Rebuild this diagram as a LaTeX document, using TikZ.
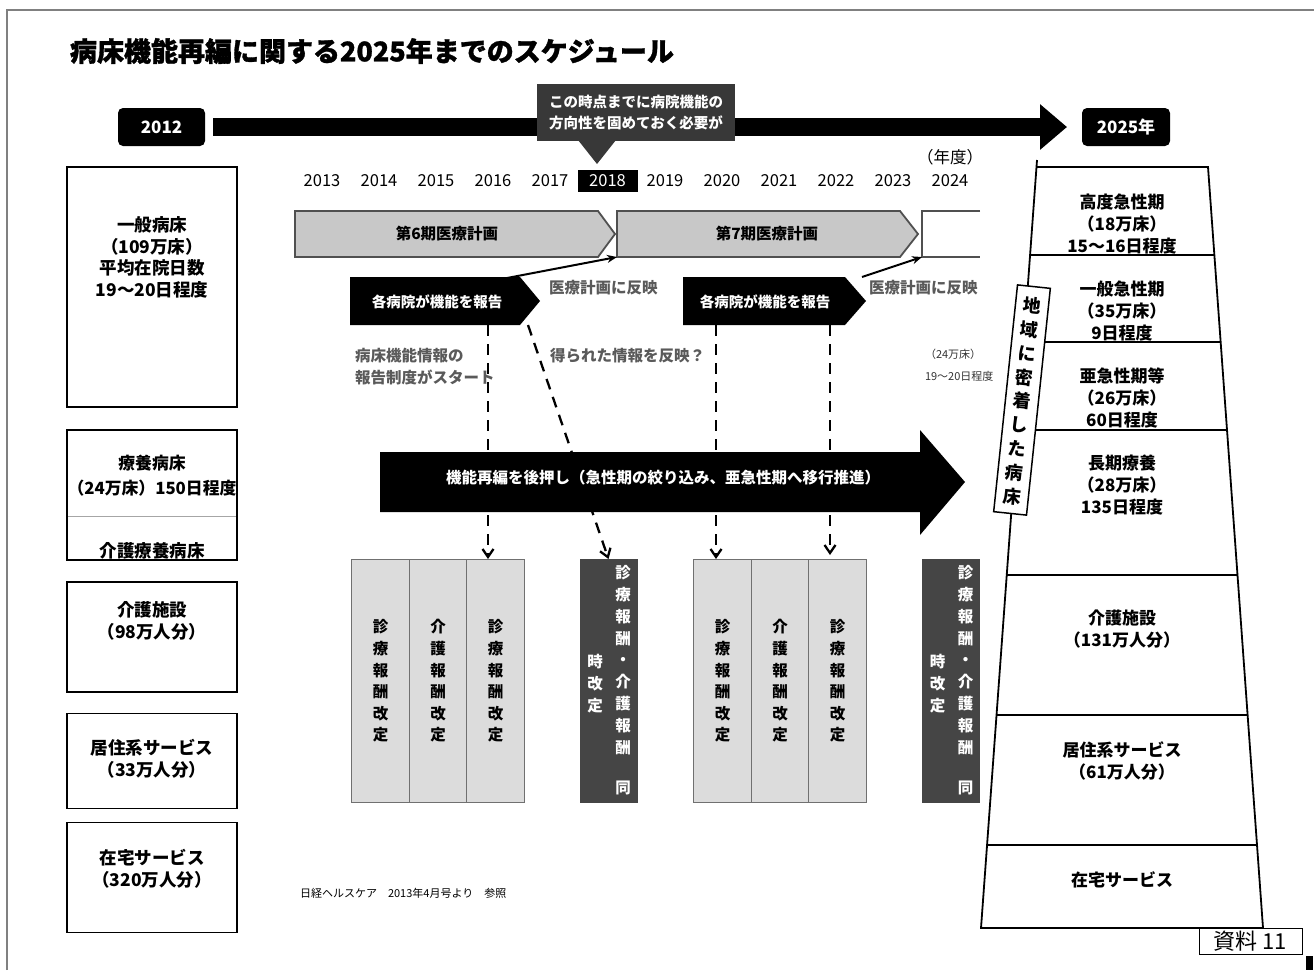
\documentclass[tikz,border=0pt]{standalone}
\usepackage{fontspec}
\setmainfont{Noto Sans CJK JP}
\usetikzlibrary{arrows.meta,shapes.geometric}
\definecolor{framegray}{HTML}{808080}
\definecolor{plangray}{HTML}{C8C8C8}
\definecolor{plandraw}{HTML}{505050}
\definecolor{boxgray}{HTML}{DCDCDC}
\definecolor{boxdraw}{HTML}{707070}
\definecolor{darkbox}{HTML}{454545}
\definecolor{calloutgray}{HTML}{383838}
\definecolor{notegray}{HTML}{5A5A5A}
\newcommand\fs[2]{\fontsize{#1}{#2}\selectfont}
\begin{document}
\begin{tikzpicture}[x=1pt,y=-1pt,
  every node/.style={inner sep=0pt, outer sep=0pt},
  lbox/.style={draw=black, line width=1.4pt, fill=white, minimum width=170pt},
  ltext/.style={align=center, font=\bfseries\fs{17.5}{21.7}},
  ttext/.style={align=center, font=\bfseries\fs{17}{22}},
  yeartext/.style={font=\fs{16.5}{18}},
  blackbox/.style={fill=black, rounded corners=5pt, text=white, minimum height=38pt, font=\bfseries\fs{17}{20}},
  planshape/.style={fill=plangray, draw=plandraw, line width=1.8pt},
  plantext/.style={font=\bfseries\fs{15.5}{18}},
  reptext/.style={text=white, font=\bfseries\fs{14.5}{17}},
  notetext/.style={text=notegray, anchor=west, align=left, font=\bfseries\fs{15.5}{22}},
  smalltext/.style={text=black!80, anchor=west, font=\fs{11}{13}},
  gcol/.style={fill=boxgray, draw=boxdraw, line width=1pt, minimum width=57.5pt, minimum height=243pt},
  dcol/.style={fill=darkbox, draw=darkbox, line width=1pt, minimum width=57pt, minimum height=243pt},
  vtext/.style={align=center, font=\bfseries\fs{15.5}{21.6}},
  dvtext/.style={align=center, text=white, font=\bfseries\fs{15.5}{21.8}},
  dasharrow/.style={line width=2.3pt, dash pattern=on 11pt off 8pt, -{Straight Barb[length=8pt,width=11pt]}},
  thinarrow/.style={line width=2pt, -{Stealth[length=10pt,width=8pt]}}
]
\useasboundingbox (0,0) rectangle (1314,970);

% frame
\draw[framegray, line width=1.5pt] (7,970) -- (7,10) -- (1314,10);

% title
\node[anchor=west, font=\bfseries\fs{27}{30}\addfontfeature{FakeBold=1.2}] (title) at (70,51) {病床機能再編に関する2025年までのスケジュール};

% timeline
\node[blackbox, minimum width=87pt] (y2012) at (161.5,127) {2012};
\node[blackbox, minimum width=88pt] (y2025) at (1126,127) {2025年};
\draw[line width=18pt, -{Triangle[length=27pt,width=44pt]}] ([xshift=8pt]y2012.east) -- ([xshift=-15pt]y2025.west);

% callout
\node[fill=calloutgray, minimum width=198pt, minimum height=57pt, text=white, align=center, font=\bfseries\fs{14.5}{21}] (callout) at (636,112.5) {この時点までに病院機能の\\方向性を固めておく必要が};
\fill[calloutgray] (578,140) -- (616,140) -- (597,164) -- cycle;

% years
\node[yeartext] at (950,157) {（年度）};
\foreach \yr/\xx in {2013/322,2014/379,2015/436,2016/493,2017/550,2019/665,2020/722,2021/779,2022/836,2023/893,2024/950}
  \node[yeartext] at (\xx,181) {\yr};
\node[yeartext, fill=black, text=white, minimum width=60pt, minimum height=22pt] (y2018) at (607.5,181) {2018};

% plan arrows
\filldraw[planshape] (295,211) -- (598,211) -- (615,234) -- (598,257) -- (295,257) -- cycle;
\node[plantext] (plan6) at (447,234) {第6期医療計画};
\filldraw[planshape] (617,211) -- (900,211) -- (918,234) -- (900,257) -- (617,257) -- cycle;
\node[plantext] (plan7) at (767,234) {第7期医療計画};
\draw[plandraw, line width=1.8pt] (980,211) -- (922,211) -- (922,257) -- (980,257);
\coordinate (plan7ll) at (617,257);
\coordinate (plan8ll) at (922,257);

% report arrows
\fill (350,277) -- (520,277) -- (540,301) -- (520,325) -- (350,325) -- cycle;
\node[reptext] (rep1) at (437,302) {各病院が機能を報告};
\fill (683,277) -- (845,277) -- (866,301) -- (845,325) -- (683,325) -- cycle;
\node[reptext] (rep2) at (765,302) {各病院が機能を報告};
\coordinate (r1top) at (507,278);
\coordinate (r2top) at (862,277);
\draw[thinarrow] (r1top) -- (plan7ll);
\draw[thinarrow] (r2top) -- (plan8ll);

% notes
\node[notetext] (refl1) at (549,288) {医療計画に反映};
\node[notetext] (refl2) at (869,288) {医療計画に反映};
\node[notetext] (start) at (355,367) {病床機能情報の\\報告制度がスタート};
\node[notetext] (tokura) at (550,356) {得られた情報を反映？};
\node[smalltext] (n24) at (925,354) {（24万床）};
\node[smalltext] (n1920) at (925,376) {19～20日程度};

% revision columns group 1
\node[gcol] (g1a) at (380.5,680.5) {};
\node[gcol] (g1b) at (438,680.5) {};
\node[gcol] (g1c) at (495.5,680.5) {};
\node[vtext] at (380.5,681) {診\\療\\報\\酬\\改\\定};
\node[vtext] at (438,681) {介\\護\\報\\酬\\改\\定};
\node[vtext] at (495.5,681) {診\\療\\報\\酬\\改\\定};
\node[dcol] (dk1) at (608.5,680.5) {};
\node[dvtext] at (623,660) {診\\療\\報\\酬\\・\\介\\護\\報\\酬};
\node[dvtext] at (623,788) {同};
\node[dvtext] at (595,683.5) {時\\改\\定};

% revision columns group 2
\node[gcol] (g2a) at (722.5,680.5) {};
\node[gcol] (g2b) at (780,680.5) {};
\node[gcol] (g2c) at (837.5,680.5) {};
\node[vtext] at (722.5,681) {診\\療\\報\\酬\\改\\定};
\node[vtext] at (780,681) {介\\護\\報\\酬\\改\\定};
\node[vtext] at (837.5,681) {診\\療\\報\\酬\\改\\定};
\node[dcol] (dk2) at (951,680.5) {};
\node[dvtext] at (965.5,660) {診\\療\\報\\酬\\・\\介\\護\\報\\酬};
\node[dvtext] at (965.5,788) {同};
\node[dvtext] at (937.5,683.5) {時\\改\\定};

% dashed arrows
\coordinate (d1) at (488,325);
\coordinate (d2) at (528,325);
\coordinate (d3) at (716,325);
\coordinate (d4) at (830,325);
\draw[dasharrow] (d1) -- (d1 |- g1c.north);
\draw[dasharrow] (d2) -- (dk1.north);
\draw[dasharrow] (d3) -- (d3 |- g2a.north);
\draw[dasharrow] (d4) -- ([yshift=4pt]d4 |- g2c.north);

% big arrow (over the dashed lines)
\fill (380,452) -- (920,452) -- (920,430) -- (965,482) -- (920,535) -- (920,512) -- (380,512) -- cycle;
\node[text=white, font=\bfseries\fs{15.5}{18}] (push) at (663,478) {機能再編を後押し（急性期の絞り込み、亜急性期へ移行推進）};

% left boxes
\node[lbox, minimum height=240pt] (b1) at (152,287) {};
\node[ltext] at (152,257.5) {一般病床\\（109万床）\\平均在院日数\\19～20日程度};
\node[lbox, minimum height=130pt] (b2) at (152,495) {};
\draw[black!35, line width=1pt] (68,516) -- (236,516);
\node[ltext, font=\bfseries\fs{16.8}{25}] at (152,475.5) {療養病床\\（24万床）150日程度};
\node[ltext] at (152,551) {介護療養病床};
\node[lbox, minimum height=110pt] (b3) at (152,637) {};
\node[ltext] at (152,621) {介護施設\\（98万人分）};
\node[lbox, minimum height=95pt] (b4) at (152,761) {};
\node[ltext] at (152,759) {居住系サービス\\（33万人分）};
\node[lbox, minimum height=110pt] (b5) at (152,877.5) {};
\node[ltext] at (152,869) {在宅サービス\\（320万人分）};

\node[anchor=west, font=\fs{11}{13}] (src) at (300,893) {日経ヘルスケア\quad 2013年4月号より\quad 参照};

% right trapezoid
\draw[line width=1.8pt] (1037,160) -- (981,928) -- (1263,928) -- (1208,167) -- (1037,167);
\draw[line width=1.8pt] (1030.5,255) -- (1214,255);
\draw[line width=1.8pt] (1024,342) -- (1220.5,342);
\draw[line width=1.8pt] (1017.5,430) -- (1227,430);
\draw[line width=1.8pt] (1007,575) -- (1237.5,575);
\draw[line width=1.8pt] (996.5,715) -- (1247.5,715);
\draw[line width=1.8pt] (987,845) -- (1257,845);
\node[ttext] (t1) at (1122,224.5) {高度急性期\\（18万床）\\15～16日程度};
\node[ttext] (t2) at (1122,311.5) {一般急性期\\（35万床）\\9日程度};
\node[ttext] (t3) at (1122,398) {亜急性期等\\（26万床）\\60日程度};
\node[ttext] (t4) at (1122,485.5) {長期療養\\（28万床）\\135日程度};
\node[ttext] (t5) at (1122,629) {介護施設\\（131万人分）};
\node[ttext] (t6) at (1122,761) {居住系サービス\\（61万人分）};
\node[ttext] (t7) at (1122,880) {在宅サービス};

\node[draw, fill=white, line width=1.5pt, rotate=-6, minimum width=33pt, minimum height=228pt] (chiiki) at (1022,400) {};
\node[rotate=-6, align=center, font=\bfseries\fs{18}{24}] (chiikit) at (1022,401) {地\\域\\に\\密\\着\\し\\た\\病\\床};

% label
\node[draw, fill=white, line width=0.8pt, minimum width=103pt, minimum height=26pt, font=\fs{22}{24}] (shiryo) at (1250.5,941) {資料 11};
\fill (1306,956) rectangle (1313,970);
\end{tikzpicture}
\end{document}
